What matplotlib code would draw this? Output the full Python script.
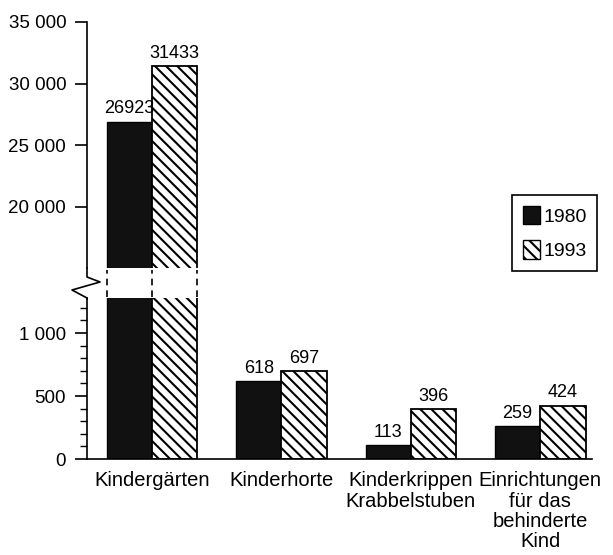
import matplotlib
matplotlib.use('Agg')
import matplotlib.pyplot as plt
from matplotlib.lines import Line2D
from matplotlib.patches import Patch
import numpy as np

plt.rcParams['font.family'] = ['Liberation Sans', 'DejaVu Sans']
plt.rcParams['hatch.linewidth'] = 1.5

# data
categories = ['Kindergärten', 'Kinderhorte', 'Kinderkrippen\nKrabbelstuben',
              'Einrichtungen\nfür das\nbehinderte\nKind']
years = ['1980', '1993']
v1980 = [26923, 618, 113, 259]
v1993 = [31433, 697, 396, 424]
upper_ticks = [20000, 25000, 30000, 35000]
upper_ticklabels = ['20 000', '25 000', '30 000', '35 000']
lower_ticks = [0, 500, 1000]
lower_ticklabels = ['0', '500', '1 000']

W, H = 613, 555
fig = plt.figure(figsize=(W / 100, H / 100), dpi=100)

def px(x0, y0, x1, y1):
    # pixel box -> figure fraction rect
    return [x0 / W, 1 - y1 / H, (x1 - x0) / W, (y1 - y0) / H]

ax_top = fig.add_axes(px(87, 22, 592, 268))
ax_gap = fig.add_axes(px(87, 268, 592, 298))
ax_bot = fig.add_axes(px(87, 298, 592, 459))

x = np.arange(len(categories))
w = 0.35
xlim = (-0.503, 3.40)
hatch = '\\\\\\'

for ax in (ax_top, ax_bot):
    ax.bar(x - w / 2, v1980, w, color='#111111', edgecolor='black', linewidth=1)
    ax.bar(x + w / 2, v1993, w, color='white', edgecolor='black', linewidth=1.3,
           hatch=hatch)
    ax.set_xlim(*xlim)
    for s in ('top', 'right'):
        ax.spines[s].set_visible(False)
    ax.spines['left'].set_linewidth(1.2)

ax_top.set_ylim(15050, 35000)
ax_top.spines['bottom'].set_visible(False)
ax_top.set_xticks([])
ax_top.set_yticks(upper_ticks)
ax_top.set_yticklabels(upper_ticklabels)

ax_bot.set_ylim(0, 1278)
ax_bot.spines['bottom'].set_linewidth(1.2)
ax_bot.set_yticks(lower_ticks)
ax_bot.set_yticklabels(lower_ticklabels)
ax_bot.set_yticks(np.arange(100, 1278, 100), minor=True)
ax_bot.set_xticks(x)
ax_bot.set_xticklabels(categories, linespacing=1.08)
ax_bot.tick_params(axis='x', length=0, pad=9, labelsize=14.5)

for ax in (ax_top, ax_bot):
    ax.tick_params(axis='y', which='major', length=9, width=1.2, labelsize=13.5, pad=6)
    ax.tick_params(axis='y', which='minor', length=5, width=1)

# value labels
for i in range(len(categories)):
    for off, val in ((-w / 2, v1980[i]), (w / 2, v1993[i])):
        target = ax_top if val > 15050 else ax_bot
        target.annotate(str(val), (x[i] + off, val), xytext=(0, 3),
                        textcoords='offset points', ha='center', va='bottom',
                        fontsize=13)

# break region: dashed bar edges
ax_gap.set_xlim(*xlim)
ax_gap.set_ylim(0, 1)
ax_gap.axis('off')
edges = [x[0] - w, x[0], x[0] + w]
ax_gap.vlines(edges, 0.05, 0.95, colors='black', linestyles=(0, (4, 3)), linewidth=1.2)

# zigzag break on the y axis (pixel coords)
zx = [87, 87, 100, 72, 87, 87]
zy = [268, 277, 282, 290, 298, 299]
fig.add_artist(Line2D([v / W for v in zx], [1 - v / H for v in zy],
                      color='black', linewidth=1.2))

# legend
handles = [Patch(facecolor='#111111', edgecolor='black', label=years[0]),
           Patch(facecolor='white', edgecolor='black', hatch=hatch, label=years[1])]
leg = fig.legend(handles=handles, loc='upper left',
                 bbox_to_anchor=(512 / W, 1 - 195 / H), borderaxespad=0,
                 fontsize=14, handlelength=0.9, handleheight=1.1, handletextpad=0.15,
                 labelspacing=0.75, borderpad=0.55, fancybox=False, framealpha=1)
leg.get_frame().set_edgecolor('black')
leg.get_frame().set_linewidth(1.2)

fig.savefig('out.png', dpi=100)
